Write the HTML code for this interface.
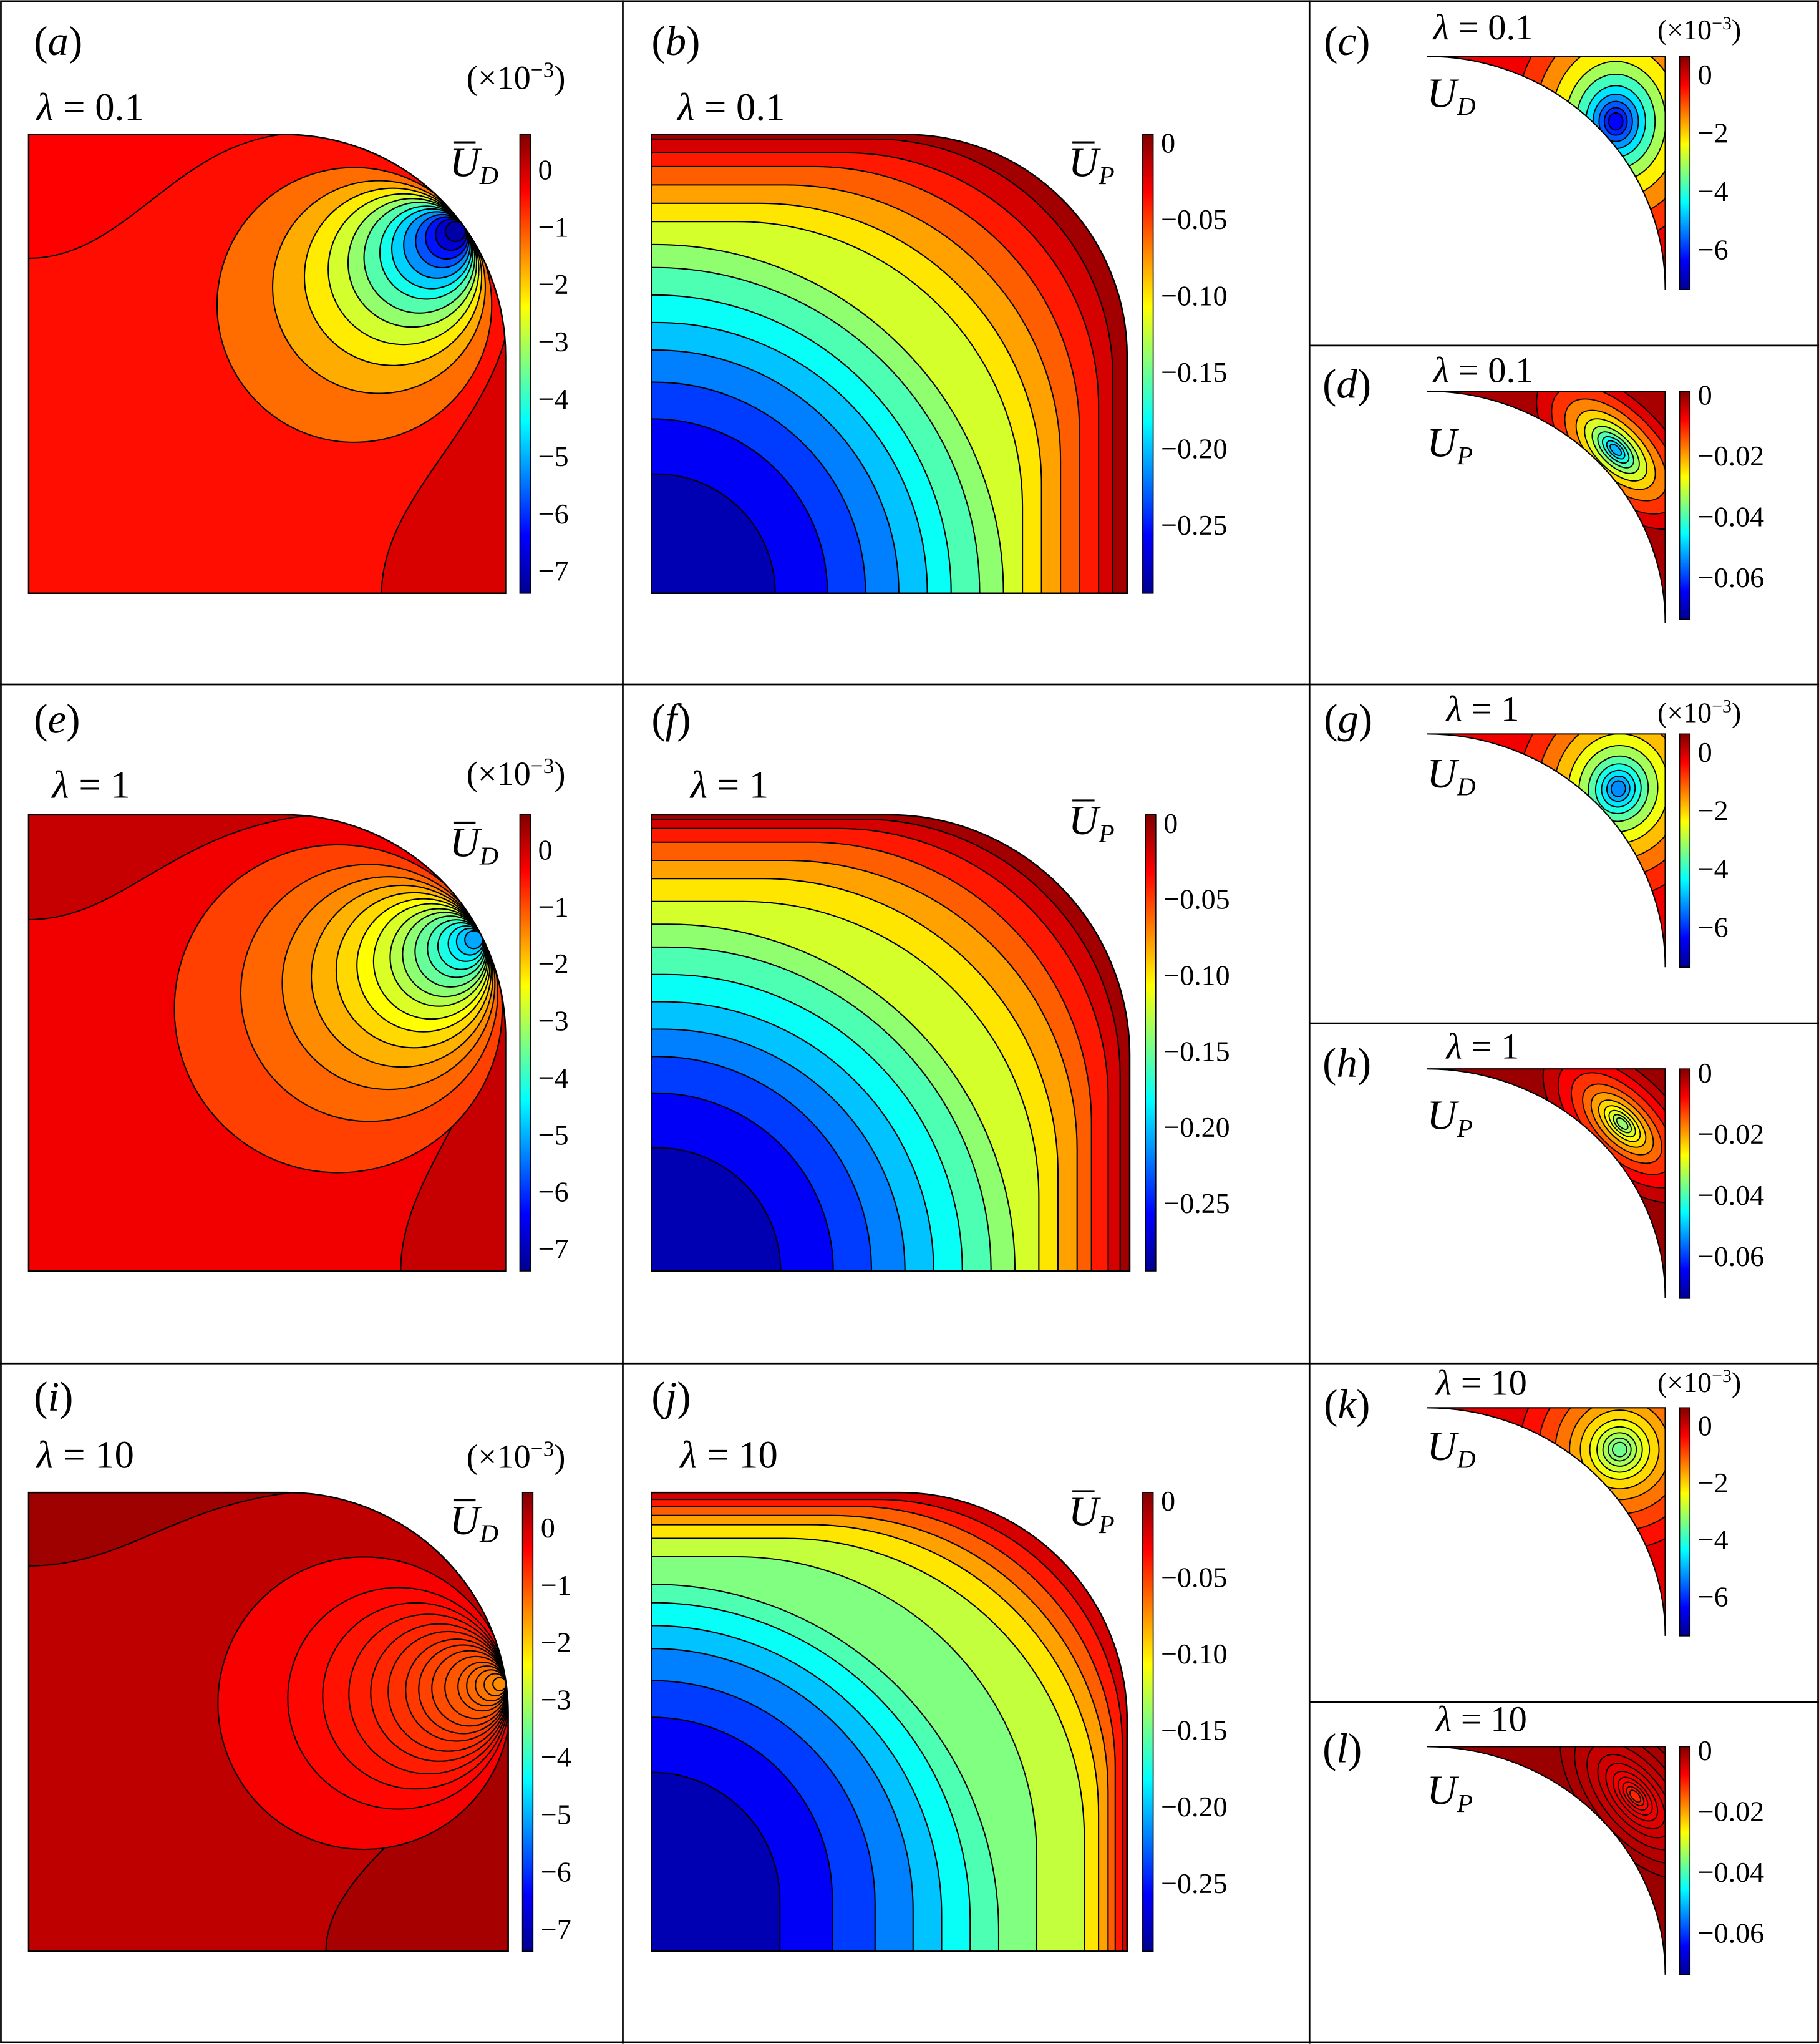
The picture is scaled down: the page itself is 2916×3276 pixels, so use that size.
<!DOCTYPE html>
<html><head><meta charset="utf-8">
<style>
html,body{margin:0;padding:0;background:#fff;}
svg{display:block;}
text{font-family:"Liberation Serif",serif;fill:#000;}
</style></head>
<body>
<svg id="fig" width="2916" height="3276" viewBox="0 0 1396 1568" font-family="Liberation Serif, serif" xmlns="http://www.w3.org/2000/svg">
<defs>
<linearGradient id="jetgrad" x1="0" y1="1" x2="0" y2="0">
<stop offset="0" stop-color="#00008f"/><stop offset="0.125" stop-color="#0000ff"/>
<stop offset="0.375" stop-color="#00ffff"/><stop offset="0.625" stop-color="#ffff00"/>
<stop offset="0.875" stop-color="#ff0000"/><stop offset="1" stop-color="#800000"/>
</linearGradient>
</defs>
<g id="frame" stroke="#000" stroke-width="1.3" fill="none">
<rect x="0.7" y="0.7" width="1394.6" height="1566" />
<line x1="478" y1="0" x2="478" y2="1568"/>
<line x1="1005" y1="0" x2="1005" y2="1568"/>
<line x1="0" y1="525" x2="1396" y2="525"/>
<line x1="0" y1="1046" x2="1396" y2="1046"/>
<line x1="1005" y1="265" x2="1396" y2="265"/>
<line x1="1005" y1="785" x2="1396" y2="785"/>
<line x1="1005" y1="1306" x2="1396" y2="1306"/>
</g>
</svg>
<script>
// ---------- data ----------
const udTicks = [0,-1,-2,-3,-4,-5,-6,-7];
const upTicks = [0,-0.05,-0.10,-0.15,-0.20,-0.25];
const udSmallTicks = [0,-2,-4,-6];
const upSmallTicks = [0,-0.02,-0.04,-0.06];
const upBandsB_x = [0.26,0.37,0.45,0.52,0.58,0.63,0.69,0.74,0.78,0.82,0.86,0.90,0.94,0.97,1.0];
const upBandsB_y = [0.26,0.38,0.46,0.53,0.59,0.65,0.71,0.76,0.81,0.85,0.89,0.93,0.96,0.99,1.0];
const upBandsF_x = [0.27,0.38,0.46,0.53,0.59,0.65,0.71,0.76,0.81,0.85,0.89,0.92,0.955,0.98,1.0];
const upBandsF_y = [0.27,0.39,0.47,0.53,0.59,0.65,0.71,0.76,0.81,0.86,0.90,0.94,0.97,0.99,1.0];
const upBandsJ_x = [0.27,0.38,0.47,0.55,0.61,0.67,0.73,0.81,0.91,0.94,0.96,0.975,0.99,1.0];
const upBandsJ_y = [0.39,0.51,0.59,0.66,0.71,0.76,0.80,0.86,0.90,0.93,0.95,0.97,0.985,1.0];
const upVals = [-0.28,-0.26,-0.24,-0.22,-0.20,-0.18,-0.16,-0.14,-0.12,-0.10,-0.08,-0.06,-0.04,-0.02,-0.005];
const upValsJ = [-0.28,-0.26,-0.24,-0.22,-0.20,-0.18,-0.16,-0.145,-0.125,-0.10,-0.08,-0.06,-0.04,-0.02];
const udRadA = [0.62,0.48,0.40,0.34,0.29,0.25,0.21,0.18,0.15,0.12,0.095,0.07,0.045];
const udValA = [-1.25,-1.75,-2.25,-2.75,-3.25,-3.75,-4.25,-4.75,-5.25,-5.75,-6.25,-6.75,-7.1];
const udRadE = [0.74,0.58,0.48,0.41,0.35,0.30,0.26,0.22,0.19,0.16,0.13,0.105,0.08,0.06,0.04];
const udValE = [-0.9,-1.2,-1.5,-1.8,-2.1,-2.4,-2.7,-3.0,-3.3,-3.6,-3.9,-4.2,-4.5,-4.8,-5.1];
const udRadI = [0.66,0.50,0.42,0.36,0.31,0.27,0.23,0.20,0.17,0.14,0.11,0.09,0.07,0.05,0.03];
const udValI = [-0.35,-0.45,-0.55,-0.62,-0.7,-0.78,-0.85,-0.92,-1.0,-1.08,-1.15,-1.22,-1.3,-1.4,-1.5];
// small panels: nested ellipse sizes (fraction of panel width) and values
const smRad = [0.42,0.34,0.27,0.21,0.165,0.125,0.095,0.07,0.048,0.03];
const smValC = [-0.8,-1.5,-2.3,-3.1,-3.9,-4.6,-5.2,-5.7,-6.1,-6.4];
const smValD = [-0.006,-0.012,-0.018,-0.024,-0.03,-0.035,-0.04,-0.044,-0.048,-0.051];
const smValG = [-0.7,-1.3,-1.9,-2.5,-3.1,-3.7,-4.2,-4.6,-5.0,-5.3];
const smValH = [-0.004,-0.008,-0.012,-0.016,-0.02,-0.024,-0.027,-0.03,-0.033,-0.035];
const smValK = [-0.5,-0.9,-1.3,-1.7,-2.1,-2.5,-2.8,-3.1,-3.3,-3.5];
const smValL = [-0.002,-0.003,-0.004,-0.005,-0.006,-0.007,-0.008,-0.009,-0.010,-0.011];

// ---------- helpers ----------
const NS="http://www.w3.org/2000/svg";
const svg=document.getElementById('fig');
function cl(v){return Math.max(0,Math.min(1,v));}
function jet(t){t=cl(t);const r=cl(1.5-Math.abs(4*t-3)),g=cl(1.5-Math.abs(4*t-2)),b=cl(1.5-Math.abs(4*t-1));
 return 'rgb('+Math.round(r*255)+','+Math.round(g*255)+','+Math.round(b*255)+')';}
function mk(tag,attrs,parent){const e=document.createElementNS(NS,tag);for(const k in attrs)e.setAttribute(k,attrs[k]);(parent||svg).appendChild(e);return e;}
function fmt(v,dec){if(v===0)return '0';return '\u2212'+Math.abs(v).toFixed(dec);}

function colorbar(x,y0,y1,vmin,vmax,ticks,dec,name){
 const g=mk('g',{});
 
 
 mk('rect',{x:x,y:y0,width:8,height:y1-y0,fill:'url(#jetgrad)',stroke:'#000','stroke-width':0.8},g);
 ticks.forEach(v=>{const yy=y1-(v-vmin)/(vmax-vmin)*(y1-y0);
  const t=mk('text',{x:x+14,y:yy+8,'font-size':22,'font-family':'Liberation Serif, serif'},g);t.textContent=fmt(v,dec);
  
  });
}
function label(x,y,txt,size,name){const t=mk('text',{x:x,y:y,'font-size':size,'font-family':'Liberation Serif, serif'});
 t.innerHTML=txt;
 
 return t;}

function bigDomain(x0,y0,x1,y1,R){return `M${x0},${y1} L${x0},${y0} L${x1-R},${y0} A${R},${R} 0 0 1 ${x1},${y0+R} L${x1},${y1} Z`;}

function upPanel(x0,y0,x1,y1,R,bx,by,vals,name){
 const g=mk('g',{});
 
 
 const id='clip'+name;const cp=mk('clipPath',{id:id},g);mk('path',{d:bigDomain(x0,y0,x1,y1,R)},cp);
 const inner=mk('g',{'clip-path':'url(#'+id+')'},g);
 const W=x1-x0,H=y1-y0,n=bx.length;
 for(let i=n-1;i>=0;i--){
  const w=bx[i]*W,h=by[i]*H;const t=(vals[i]+0.295)/0.3;
  const full=Math.min(w,h);const f=i/(n-1);
  let r=full*(1-f)+Math.min(R,full)*f; if(i<n/2) r=full;
  r=Math.min(r,full);
  const xe=x0+w,yt=y1-h;
  const d=`M${x0},${y1} L${x0},${yt} L${xe-r},${yt} A${r},${r} 0 0 1 ${xe},${yt+r} L${xe},${y1} Z`;
  const p=mk('path',{d:d,fill:jet(t),stroke:'#000','stroke-width':1},inner);
  
  
 }
 mk('path',{d:bigDomain(x0,y0,x1,y1,R),fill:'none',stroke:'#000','stroke-width':1.2},g);
}

function udPanel(x0,y0,x1,y1,R,angDeg,rad,vals,vmin,vmax,baseV,tlV,brV,name,extra){
 const g=mk('g',{});
 
 
 const id='clip'+name;const cp=mk('clipPath',{id:id},g);mk('path',{d:bigDomain(x0,y0,x1,y1,R)},cp);
 const inner=mk('g',{'clip-path':'url(#'+id+')'},g);
 const T=v=>(v-vmin)/(vmax-vmin);
 mk('rect',{x:x0,y:y0,width:x1-x0,height:y1-y0,fill:jet(T(baseV))},inner);
 const W=x1-x0,H=y1-y0;
 const tl=mk('path',{d:`M${x0},${y0+H*extra[0]} C${x0+W*0.2},${y0+H*extra[0]} ${x0+W*0.3},${y0+H*0.03} ${x0+W*extra[1]},${y0} L${x0},${y0} Z`,fill:jet(T(tlV)),stroke:'#000','stroke-width':1},inner);
 
 
 const br=mk('path',{d:`M${x0+W*extra[2]},${y1} C${x0+W*extra[2]},${y1-H*0.2} ${x1-W*0.05},${y1-H*0.35} ${x1},${y1-H*extra[3]} L${x1},${y1} Z`,fill:jet(T(brV)),stroke:'#000','stroke-width':1},inner);
 
 
 const cx=x1-R,cy=y0+R,a=angDeg*Math.PI/180;
 const px=cx+R*Math.cos(a),py=cy-R*Math.sin(a);
 const ux=-Math.cos(a),uy=Math.sin(a);
 rad.forEach((rf,i)=>{const r=rf*R;
  const c=mk('circle',{cx:px+ux*r*0.98,cy:py+uy*r*0.98,r:r,fill:jet(T(vals[i])),stroke:'#000','stroke-width':1},inner);
  
  });
 mk('path',{d:bigDomain(x0,y0,x1,y1,R),fill:'none',stroke:'#000','stroke-width':1.2},g);
}

function smallPanel(xl,yt,xr,yb,fx,fy,rot,ratio,rads,baseV,vals,vmin,vmax,name){
 const g=mk('g',{});
 
 
 const d=`M${xl},${yt} L${xr},${yt} L${xr},${yb} A${xr-xl},${yb-yt} 0 0 0 ${xl},${yt} Z`;
 const id='clip'+name;const cp=mk('clipPath',{id:id},g);mk('path',{d:d},cp);
 const inner=mk('g',{'clip-path':'url(#'+id+')'},g);
 const T=v=>(v-vmin)/(vmax-vmin);
 mk('path',{d:d,fill:jet(T(baseV))},inner);
 const W=xr-xl;
 rads.forEach((rf,i)=>{
  const e=mk('ellipse',{cx:fx,cy:fy,rx:rf*W,ry:rf*W*ratio,fill:jet(T(vals[i])),stroke:'#000','stroke-width':0.9,
   transform:`rotate(${rot} ${fx} ${fy})`},inner);
  
  });
 mk('path',{d:d,fill:'none',stroke:'#000','stroke-width':1},g);
}

// ---------- big U_D panels ----------
udPanel(22,103,388,455,170,36,udRadA,udValA,-7.4,0.6,-0.5,-0.4,-0.1,'panel-a',[0.27,0.53,0.74,0.56]);
udPanel(22,625,388,975,170,27,udRadE,udValE,-7.4,0.6,-0.3,0.05,0.05,'panel-e',[0.23,0.60,0.78,0.62]);
udPanel(22,1145,390,1497,170,8,udRadI,udValI,-7.4,0.6,0.1,0.35,0.3,'panel-i',[0.16,0.55,0.62,0.55]);
colorbar(399,103,455,-7.4,0.6,udTicks,0,'colorbar-a');
colorbar(399,625,975,-7.4,0.6,udTicks,0,'colorbar-e');
colorbar(401,1145,1497,-7.4,0.6,udTicks,0,'colorbar-i');

// ---------- big U_P panels ----------
upPanel(500,103,865,455,170,upBandsB_x,upBandsB_y,upVals,'panel-b');
upPanel(500,625,867,975,185,upBandsF_x,upBandsF_y,upVals,'panel-f');
upPanel(500,1145,865,1497,175,upBandsJ_x,upBandsJ_y,upValsJ,'panel-j');
colorbar(877,103,455,-0.295,0.005,upTicks,2,'colorbar-b');
colorbar(879,625,975,-0.295,0.005,upTicks,2,'colorbar-f');
colorbar(877,1145,1497,-0.295,0.005,upTicks,2,'colorbar-j');

// ---------- small panels ----------
smallPanel(1095,43,1278,222,1240,93,0,1.2,smRad,-0.3,smValC,-7.4,0.6,'panel-c');
smallPanel(1095,300,1278,478,1240,345,45,0.5,smRad,-0.002,smValD,-0.074,0.001,'panel-d');
smallPanel(1095,563,1278,742,1242,605,10,1.1,smRad,-0.3,smValG,-7.4,0.6,'panel-g');
smallPanel(1095,820,1278,996,1245,862,45,0.5,smRad,-0.001,smValH,-0.074,0.001,'panel-h');
smallPanel(1095,1080,1278,1255,1243,1112,10,1.0,smRad,-0.2,smValK,-7.4,0.6,'panel-k');
smallPanel(1095,1340,1278,1515,1255,1378,50,0.5,smRad,-0.001,smValL,-0.074,0.001,'panel-l');
colorbar(1289,43,222,-7.4,0.6,udSmallTicks,0,'colorbar-c');
colorbar(1289,300,475,-0.074,0.001,upSmallTicks,2,'colorbar-d');
colorbar(1289,563,742,-7.4,0.6,udSmallTicks,0,'colorbar-g');
colorbar(1289,820,996,-0.074,0.001,upSmallTicks,2,'colorbar-h');
colorbar(1289,1080,1255,-7.4,0.6,udSmallTicks,0,'colorbar-k');
colorbar(1289,1340,1515,-0.074,0.001,upSmallTicks,2,'colorbar-l');

// ---------- labels ----------
const L=[['a',26,42],['b',500,42],['c',1016,42],['d',1015,305],['e',26,562],['f',500,562],['g',1016,562],['h',1015,826],
 ['i',26,1082],['j',500,1082],['k',1016,1088],['l',1015,1352]];
L.forEach(([c,x,y])=>label(x,y,'(<tspan font-style="italic">'+c+'</tspan>)',32,'panel-label-'+c));
const lam=[[28,92,'0.1',30],[520,92,'0.1',30],[1100,30,'0.1',28],[1100,293,'0.1',28],
 [40,612,'1',30],[530,612,'1',30],[1110,553,'1',28],[1110,812,'1',28],
 [28,1126,'10',30],[522,1126,'10',30],[1102,1070,'10',28],[1102,1328,'10',28]];
lam.forEach(([x,y,v,s])=>label(x,y,'<tspan font-style="italic">λ</tspan> = '+v,s,'lambda-label'));
const sci=[[358,68,26],[358,602,26],[358,1126,26],[1272,30,22],[1272,554,22],[1272,1068,22]];
sci.forEach(([x,y,s])=>label(x,y,'(×10<tspan baseline-shift="super" font-size="'+(s*0.65)+'">−3</tspan>)',s,'scale-factor-label'));
const bar='<tspan font-style="italic">U</tspan>';
[[345,135,'D'],[345,657,'D'],[345,1177,'D']].forEach(([x,y,s])=>{
 label(x,y,bar+'<tspan font-size="20" font-style="italic" dy="6">'+s+'</tspan>',32,'colorbar-title-ud');
 mk('line',{x1:x+3,y1:y-26,x2:x+20,y2:y-26,stroke:'#000','stroke-width':1.5});});
[[820,135,'P'],[820,640,'P'],[820,1170,'P']].forEach(([x,y,s])=>{
 label(x,y,bar+'<tspan font-size="20" font-style="italic" dy="6">'+s+'</tspan>',32,'colorbar-title-up');
 mk('line',{x1:x+3,y1:y-26,x2:x+20,y2:y-26,stroke:'#000','stroke-width':1.5});});
[[1095,82,'D'],[1095,350,'P'],[1095,604,'D'],[1095,866,'P'],[1095,1120,'D'],[1095,1384,'P']].forEach(([x,y,s])=>
 label(x,y,bar+'<tspan font-size="20" font-style="italic" dy="6">'+s+'</tspan>',32,'panel-quantity-label'));
</script>
</body></html>
